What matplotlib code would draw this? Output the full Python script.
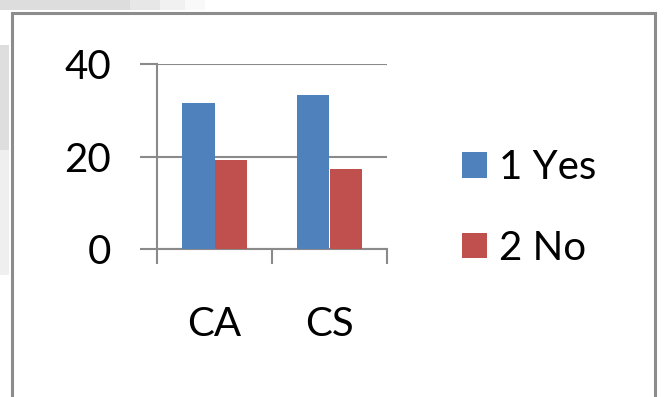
import matplotlib
matplotlib.use("Agg")
import matplotlib.pyplot as plt
from matplotlib.patches import Rectangle, Patch
import numpy as np

categories = ["CA", "CS"]
series_names = ["1 Yes", "2 No"]
yes_values = [31.5, 33.4]
no_values = [19.2, 17.3]
y_ticks = [0, 20, 40]

BLUE = "#4F81BD"
RED = "#C0504D"
GRID = "#8a8a8a"

W, H = 666, 397
DPI = 100
plt.rcParams["font.family"] = ["Lato", "DejaVu Sans"]

fig = plt.figure(figsize=(W / DPI, H / DPI), dpi=DPI)
fig.patch.set_facecolor("white")

def px(x0, y0, w, h):
    # rectangle in pixel units (origin top-left) -> figure fraction
    return (x0 / W, 1 - (y0 + h) / H), w / W, h / H

# faint grey band along the top-left edge
for x0, x1, a in [(0, 130, 1.0), (130, 160, 0.7), (160, 185, 0.4), (185, 205, 0.15)]:
    xy, w, h = px(x0, 0, x1 - x0, 10)
    fig.patches.append(Rectangle(xy, w, h, transform=fig.transFigure,
                                 facecolor="#dddddd", edgecolor="none", alpha=a))
for y0, y1, c in [(0, 10, "#dddddd"), (45, 150, "#dedede"), (150, 275, "#efefef")]:
    xy, w, h = px(0, y0, 9, y1 - y0)
    fig.patches.append(Rectangle(xy, w, h, transform=fig.transFigure,
                                 facecolor=c, edgecolor="none"))

# outer chart frame
xy, w, h = px(11.5, 12.5, 643, 400)
fig.patches.append(Rectangle(xy, w, h, transform=fig.transFigure,
                             facecolor="none", edgecolor="#8c8c8c", linewidth=2.2))

# plot area
ax = fig.add_axes([157 / W, (H - 249) / H, 230 / W, 185 / H])
ax.set_facecolor("none")

x = np.arange(len(categories))
bw = 0.286
ax.bar(x - bw / 2, yes_values, bw, color=BLUE, label=series_names[0], zorder=3)
ax.bar(x + bw / 2, no_values, bw, color=RED, label=series_names[1], zorder=3)

ax.set_xlim(-0.5, len(categories) - 0.5)
ax.set_ylim(0, 40)
ax.set_yticks(y_ticks)
ax.set_yticklabels([str(v) for v in y_ticks])
ax.yaxis.grid(True, color=GRID, linewidth=1.5, zorder=0)

for side in ["top", "right"]:
    ax.spines[side].set_visible(False)
for side in ["left", "bottom"]:
    ax.spines[side].set_color(GRID)
    ax.spines[side].set_linewidth(1.5)

ax.tick_params(axis="y", direction="out", length=12.2, width=1.5, color=GRID,
               pad=21, labelsize=29)

# category boundary ticks, labels centred on each category
ax.set_xticks(np.arange(-0.5, len(categories), 1.0))
ax.set_xticklabels([])
ax.set_xticks(x, minor=True)
ax.set_xticklabels(categories, minor=True)
ax.tick_params(axis="x", which="major", direction="out", length=10.8, width=1.5, color=GRID)
ax.tick_params(axis="x", which="minor", length=0, pad=41, labelsize=29)

handles = [Patch(facecolor=BLUE, edgecolor="none"), Patch(facecolor=RED, edgecolor="none")]
fig.legend(handles, series_names, loc="center left",
           bbox_to_anchor=(462 / W, 1 - 208 / H), frameon=False,
           fontsize=29, handlelength=0.62, handleheight=0.6,
           handletextpad=0.3, labelspacing=1.07, borderpad=0, borderaxespad=0)

fig.savefig("out.png", dpi=DPI)
